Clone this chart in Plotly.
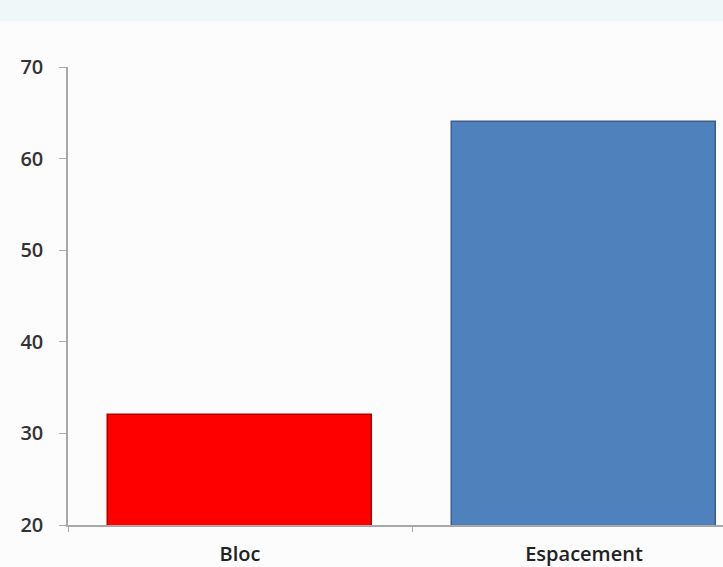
import plotly.graph_objects as go

categories = ["Bloc", "Espacement"]
values = [32, 64]
bar_colors = ["#FF0000", "#4F81BD"]
line_colors = ["#B00000", "#3A5F8A"]
y_ticks = [20, 30, 40, 50, 60, 70]

fig = go.Figure()
fig.add_trace(go.Bar(
    x=categories, y=values, width=0.77,
    marker=dict(color=bar_colors, line=dict(color=line_colors, width=1.5)),
))

fig.add_shape(type="rect", xref="paper", yref="paper", x0=-0.2, x1=1.2, y0=1.10, y1=1.16,
              fillcolor="#EFF7F8", line=dict(width=0), layer="below")

fig.update_layout(
    width=723, height=567,
    margin=dict(l=68, r=0, t=67, b=42),
    paper_bgcolor="#FCFCFC", plot_bgcolor="#FCFCFC",
    showlegend=False,
    font=dict(family="Open Sans", size=16, color="#333333"),
    bargap=0,
)
fig.update_xaxes(
    range=[-0.5, 1.404], showline=True, linecolor="#A8A8A8", linewidth=1.5,
    ticks="outside", tickson="boundaries", ticklen=5, tickcolor="#A8A8A8",
    ticklabelstandoff=10, showgrid=False, zeroline=False,
    tickfont=dict(size=20, color="#222222", weight=600),
)
fig.update_yaxes(
    range=[20, 70], tickvals=y_ticks, showline=True, linecolor="#A8A8A8", linewidth=1.5,
    ticks="outside", ticklen=7, tickcolor="#A8A8A8", showgrid=False, zeroline=False,
    ticklabelstandoff=12, tickfont=dict(size=20, color="#333333", weight=600),
)

fig.write_html("out.html")
